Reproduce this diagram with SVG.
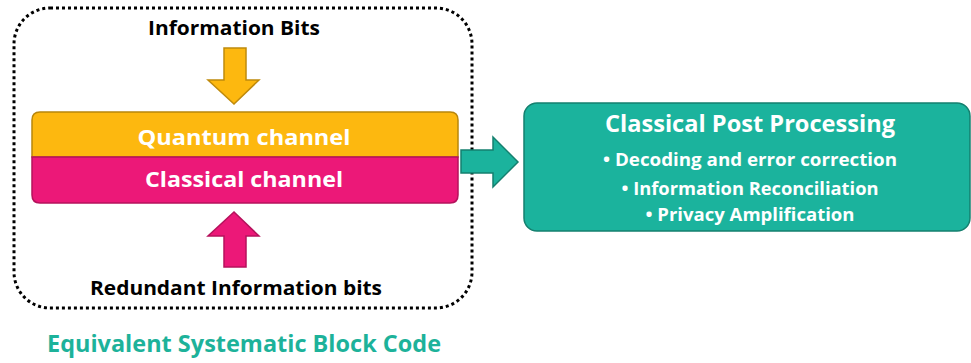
<svg xmlns="http://www.w3.org/2000/svg" width="971" height="363" viewBox="0 0 971 363">
<style>
text{font-family:"Open Sans","Liberation Sans",sans-serif;font-weight:bold;text-anchor:middle}
.blk{fill:#000;font-size:19px}
.wht{fill:#fff}
</style>
<rect width="971" height="363" fill="#fff"/>
<g id="block-code">
<rect x="14" y="8" width="458" height="300" rx="36" fill="none" stroke="#000" stroke-width="3" stroke-dasharray="3 3"/>
</g>
<g id="info-bits">
<text class="blk" x="234" y="35" textLength="172" lengthAdjust="spacingAndGlyphs">Information Bits</text>
</g>
<g id="quantum">
<path d="M32,157 V120 Q32,112 40,112 H450 Q458,112 458,120 V157 Z" fill="#FDB80F" stroke="#B8860B" stroke-width="1.5"/>
<text class="wht" x="244" y="145" font-size="22" textLength="213" lengthAdjust="spacingAndGlyphs">Quantum channel</text>
</g>
<g id="classical">
<path d="M32,157 V195 Q32,203 40,203 H450 Q458,203 458,195 V157 Z" fill="#EC1878" stroke="#B5125C" stroke-width="1.5"/>
<text class="wht" x="244" y="187" font-size="22" textLength="198" lengthAdjust="spacingAndGlyphs">Classical channel</text>
</g>
<g id="redundant">
<text class="blk" x="236" y="295" textLength="292" lengthAdjust="spacingAndGlyphs">Redundant Information bits</text>
</g>
<g id="post-processing">
<rect x="524" y="103" width="446" height="128" rx="13" fill="#1BB39D" stroke="#15806F" stroke-width="1.5"/>
<text class="wht" x="750" y="132" font-size="24" textLength="290" lengthAdjust="spacingAndGlyphs">Classical Post Processing</text>
<text class="wht" x="750" y="166" font-size="17" textLength="294" lengthAdjust="spacingAndGlyphs">• Decoding and error correction</text>
<text class="wht" x="750" y="195" font-size="17" textLength="257" lengthAdjust="spacingAndGlyphs">• Information Reconciliation</text>
<text class="wht" x="750" y="221" font-size="17" textLength="209" lengthAdjust="spacingAndGlyphs">• Privacy Amplification</text>
</g>
<g id="caption">
<text x="244" y="352" font-size="24" fill="#1DB29A" textLength="394" lengthAdjust="spacingAndGlyphs">Equivalent Systematic Block Code</text>
</g>
<g id="connectors">
<path d="M224,48 H246 V80 H259 L234,104 L208,80 H224 Z" fill="#FDB80F" stroke="#BF8A0C" stroke-width="1.5"/>
<path d="M224,267 H246 V236 H259 L234,212 L208,236 H224 Z" fill="#EC1878" stroke="#B5125C" stroke-width="1.5"/>
<path d="M461,150 H493 V137 L518,162 L493,187 V173 H461 Z" fill="#1BB39D" stroke="#15806F" stroke-width="1.5"/>
</g>
</svg>
